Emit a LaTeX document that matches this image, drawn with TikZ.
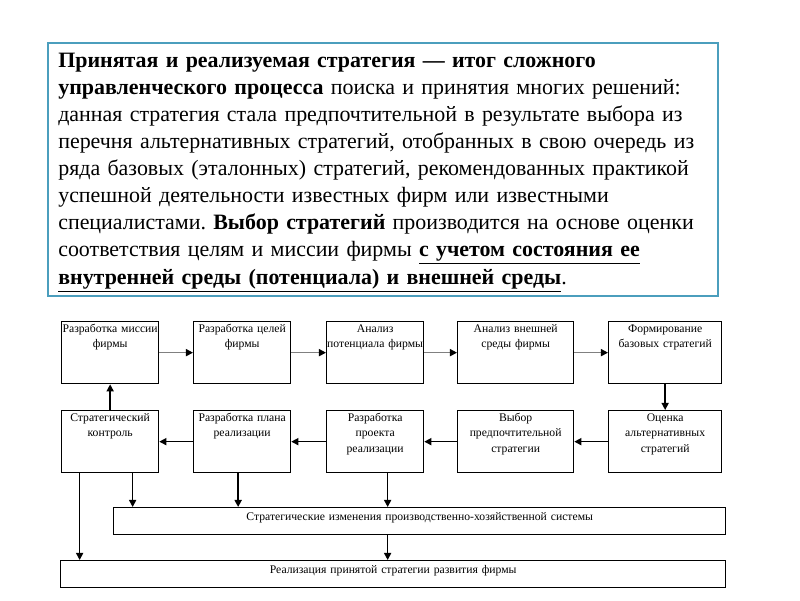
\documentclass[tikz,border=0pt]{standalone}
\usepackage{fontspec}
\setmainfont{Liberation Serif}
\usepackage{xcolor}
\usepackage{tikz}
\usetikzlibrary{calc,arrows.meta}
\frenchspacing
\definecolor{frameBlue}{RGB}{75,158,189}
\newcommand{\rowOneTop}{321}
\newcommand{\rowTwoTop}{410}
\newcommand{\stageFont}{\fontsize{8.3}{11}\selectfont}
\newcommand{\introFont}{\fontsize{15.6}{19.2}\selectfont}

\begin{document}
\begin{tikzpicture}[x=0.025cm, y=-0.025cm,
	stage/.style={draw, line width=0.9pt, anchor=north west, align=center, font=\stageFont, inner xsep=0pt, inner ysep=1.5pt, text height=6pt, text depth=35.1pt, minimum height=1.55cm},
	wide/.style={draw, line width=0.9pt, anchor=north west, align=center, font=\stageFont, inner xsep=0pt, inner ysep=3pt, text height=6pt, text depth=7.2pt, minimum height=0.675cm},
	arrow/.style={line width=1pt, -{Triangle[length=5pt,width=5pt]}},
	grayarrow/.style={line width=1pt, draw=gray, -{Triangle[length=5pt,width=5pt,color=black]}}]
	\useasboundingbox (0,0) rectangle (800,600);

	\draw[frameBlue, line width=1.4pt] (48,43) rectangle (718,296);
	\node[anchor=north west, align=left, inner sep=0pt, text width=16.5cm, text height=11pt, font=\introFont] (intro) at (58,51.5) {\textbf{Принятая и реализуемая стратегия — итог сложного}\\
		\textbf{управленческого процесса} поиска и принятия многих решений:\\
		данная стратегия стала предпочтительной в результате выбора из\\
		перечня альтернативных стратегий, отобранных в свою очередь из\\
		ряда базовых (эталонных) стратегий, рекомендованных практикой\\
		успешной деятельности известных фирм или известными\\
		специалистами. \textbf{Выбор стратегий} производится на основе оценки\\
		соответствия целям и миссии фирмы \underline{\textbf{с учетом состояния ее}}\\[1pt]
		\underline{\textbf{внутренней среды (потенциала) и внешней среды}}.};

	% upper row
	\foreach \name/\x/\w/\txt in {mission/61/2.425cm/{Разработка миссии\\фирмы}, goals/193/2.425cm/{Разработка целей\\фирмы}, potential/326/2.425cm/{Анализ\\потенциала фирмы}, external/457/2.9cm/{Анализ внешней\\среды фирмы}, formation/608/2.825cm/{Формирование\\базовых стратегий}}
	{
		\node[stage, minimum width=\w, text width=\w] (\name) at (\x,\rowOneTop) {\txt};
	}
	% lower row
	\foreach \name/\x/\w/\txt in {control/61/2.425cm/{Стратегический\\контроль}, plan/193/2.425cm/{Разработка плана\\реализации}, project/326/2.425cm/{Разработка\\проекта\\реализации}, choice/457/2.9cm/{Выбор\\предпочтительной\\стратегии}, assess/608/2.825cm/{Оценка\\альтернативных\\стратегий}}
	{
		\node[stage, minimum width=\w, text width=\w] (\name) at (\x,\rowTwoTop) {\txt};
	}
	\node[wide, minimum width=15.3cm, text width=15.3cm] (changes) at (113,507) {Стратегические изменения производственно-хозяйственной системы};
	\node[wide, minimum width=16.625cm, text width=16.625cm] (realize) at (60,560) {Реализация принятой стратегии развития фирмы};

	\draw[grayarrow] (mission) -- (goals);
	\draw[grayarrow] (goals) -- (potential);
	\draw[grayarrow] (potential) -- (external);
	\draw[grayarrow] (external) -- (formation);
	\draw[arrow] (formation) -- (assess);
	\draw[arrow] (assess) -- (choice);
	\draw[arrow] (choice) -- (project);
	\draw[arrow] (project) -- (plan);
	\draw[arrow] (plan) -- (control);
	\draw[arrow] (control) -- (mission);

	\coordinate (ctlA) at ($(control.south)+(-30.5,0)$);
	\coordinate (ctlB) at ($(control.south)+(22.5,0)$);
	\coordinate (plnA) at ($(plan.south)+(-4,0)$);
	\coordinate (prjA) at ($(project.south)+(12.5,0)$);
	\draw[arrow] (ctlA) -- (ctlA |- realize.north);
	\draw[arrow] (ctlB) -- (ctlB |- changes.north);
	\draw[arrow, line width=1.4pt] (plnA) -- (plnA |- changes.north);
	\draw[arrow] (prjA) -- (prjA |- changes.north);
	\draw[arrow] (prjA |- changes.south) -- (prjA |- realize.north);
\end{tikzpicture}
\end{document}
